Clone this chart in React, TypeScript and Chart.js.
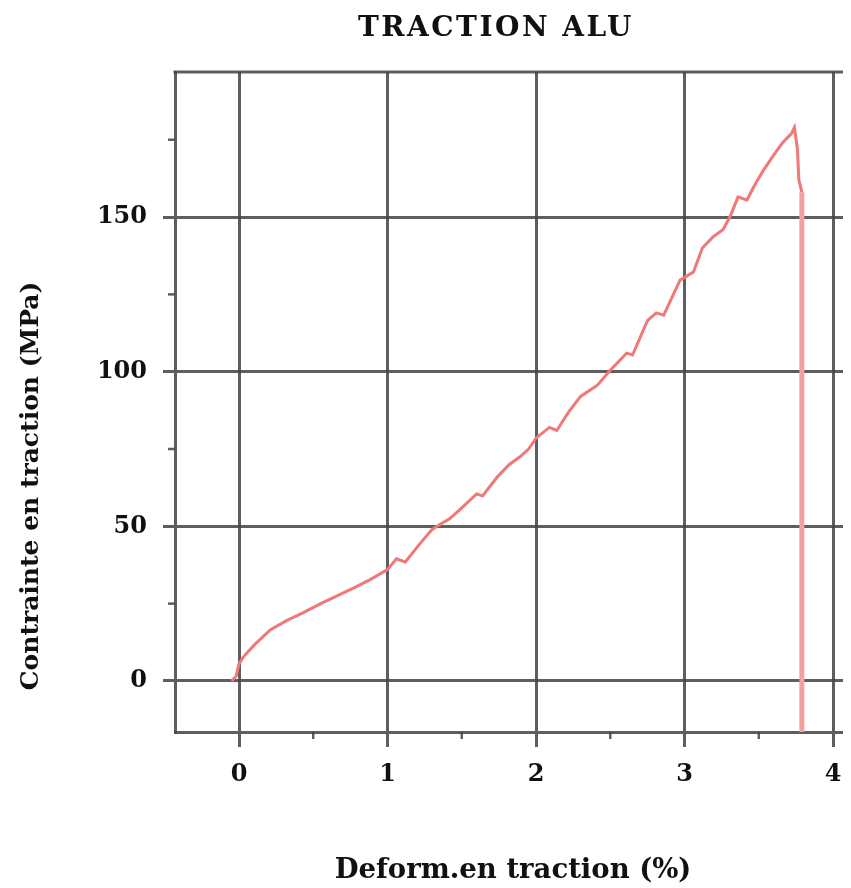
import React, { useEffect, useRef } from "react";
import { Chart, registerables } from "chart.js";

Chart.register(...registerables);

const TITLE = "TRACTION ALU";
const X_LABEL = "Deform.en traction (%)";
const Y_LABEL = "Contrainte en traction (MPa)";

const STRAIN = [
  -0.05, -0.02, 0.0, 0.03, 0.1, 0.21, 0.32, 0.43, 0.55, 0.66, 0.77, 0.88, 1.0,
  1.06, 1.12, 1.22, 1.3, 1.35, 1.42, 1.5, 1.6, 1.64, 1.74, 1.82, 1.89, 1.95,
  2.0, 2.09, 2.14, 2.22, 2.3, 2.41, 2.5, 2.61, 2.65, 2.75, 2.81, 2.86, 2.97,
  3.06, 3.12, 3.19, 3.26, 3.31, 3.36, 3.42, 3.48, 3.53, 3.6, 3.66, 3.72, 3.74,
  3.76, 3.77, 3.79, 3.79,
];
const STRESS = [
  0, 1.5, 5.5, 7.8, 11.5, 16.5, 19.5, 22, 25, 27.5, 30, 32.7, 36,
  39.5, 38.5, 44.5, 49, 50.5, 52.5, 56, 60.5, 59.8, 66, 70, 72.4, 75,
  78.5, 82, 81, 87, 92, 95.5, 100.5, 106, 105.4, 116.5, 119, 118.3, 129.6,
  132.2, 140, 143.5, 146, 150.5, 156.5, 155.5, 161, 165, 170, 174, 177, 179,
  172, 162, 158, -25,
];

const X_TICKS = [0, 1, 2, 3, 4];
const Y_TICKS = [0, 50, 100, 150];
const X_MINOR = [0.5, 1.5, 2.5, 3.5];
const Y_MINOR = [25, 75, 125, 175];

const X_MIN = -0.431;
const X_MAX = 4.121;
const Y_MIN = -16.5;
const Y_MAX = 196.9;

const FONT = "'DejaVu Serif', 'Liberation Serif', serif";
const GRID = "rgba(72,72,72,0.88)";
const LINE = "#f07878";

const framePlugin = {
  id: "frame",
  beforeDatasetsDraw(chart: any) {
    const { ctx, chartArea, scales } = chart;
    ctx.save();
    ctx.strokeStyle = GRID;
    ctx.lineWidth = 3;
    ctx.beginPath();
    ctx.moveTo(chartArea.left - 1.5, chartArea.top);
    ctx.lineTo(chartArea.right, chartArea.top);
    ctx.stroke();
    ctx.lineWidth = 2.5;
    for (const v of X_MINOR) {
      const px = scales.x.getPixelForValue(v);
      ctx.beginPath();
      ctx.moveTo(px, chartArea.bottom);
      ctx.lineTo(px, chartArea.bottom + 7);
      ctx.stroke();
    }
    for (const v of Y_MINOR) {
      const py = scales.y.getPixelForValue(v);
      ctx.beginPath();
      ctx.moveTo(chartArea.left, py);
      ctx.lineTo(chartArea.left - 7, py);
      ctx.stroke();
    }
    ctx.restore();
  },
  afterDraw(chart: any) {
    const { ctx, chartArea } = chart;
    ctx.save();
    ctx.font = `bold 28px ${FONT}`;
    ctx.fillStyle = "#111";
    ctx.textAlign = "center";
    ctx.textBaseline = "middle";
    (ctx as any).letterSpacing = "2.5px";
    ctx.fillText(TITLE, 488, 21);
    ctx.restore();
    ctx.save();
    ctx.font = `bold 25px ${FONT}`;
    ctx.fillStyle = "#111";
    ctx.textAlign = "center";
    ctx.textBaseline = "middle";
    ctx.translate(chartArea.left - 144, (chartArea.top + chartArea.bottom) / 2 + 84);
    ctx.rotate(-Math.PI / 2);
    ctx.fillText(Y_LABEL, 0, 0);
    ctx.restore();
  },
};

export default function App() {
  const ref = useRef<HTMLCanvasElement | null>(null);

  useEffect(() => {
    if (!ref.current) return;
    const points = STRAIN.map((x, i) => ({ x, y: STRESS[i] }));
    const last = points.length - 2;
    const chart = new Chart(ref.current, {
      type: "line",
      data: {
        datasets: [
          {
            data: points,
            borderColor: LINE,
            borderWidth: 3,
            pointRadius: 0,
            tension: 0,
            segment: {
              borderWidth: (c: any) => (c.p0DataIndex >= last ? 5 : 3),
              borderColor: (c: any) => (c.p0DataIndex >= last ? "#f4a0a0" : LINE),
            },
          },
        ],
      },
      options: {
        responsive: false,
        animation: false,
        layout: { padding: { left: 0, top: 64, right: 0, bottom: 0 } },
        plugins: {
          legend: { display: false },
          tooltip: { enabled: false },
          title: { display: false },
        },
        scales: {
          x: {
            type: "linear",
            min: X_MIN,
            max: X_MAX,
            afterBuildTicks: (s: any) => {
              s.ticks = X_TICKS.map((v) => ({ value: v }));
            },
            afterFit: (s: any) => {
              s.height = 152;
              s.paddingLeft = 0;
              s.paddingRight = 0;
            },
            grid: { color: GRID, lineWidth: 3, tickLength: 15, tickColor: GRID },
            border: { color: GRID, width: 3 },
            ticks: {
              color: "#111",
              padding: 13,
              maxRotation: 0,
              font: { family: FONT, size: 24, weight: "bold" },
              callback: (v: any) => String(v),
            },
            title: {
              display: true,
              text: X_LABEL,
              color: "#111",
              padding: { top: 0, bottom: -3 },
              font: { family: FONT, size: 27.5, weight: "bold" },
            },
          },
          y: {
            type: "linear",
            min: Y_MIN,
            max: Y_MAX,
            afterBuildTicks: (s: any) => {
              s.ticks = Y_TICKS.map((v) => ({ value: v }));
            },
            afterFit: (s: any) => {
              s.width = 167;
              s.paddingTop = 0;
              s.paddingBottom = 0;
            },
            grid: { color: GRID, lineWidth: 3, tickLength: 12, tickColor: GRID },
            border: { color: GRID, width: 3 },
            ticks: {
              color: "#111",
              padding: 16,
              font: { family: FONT, size: 24, weight: "bold" },
              callback: (v: any) => String(v),
            },
          },
        },
      },
      plugins: [framePlugin],
    } as any);
    return () => chart.destroy();
  }, []);

  return (
    <div style={{ width: 843, height: 876 }}>
      <canvas ref={ref} width={843} height={876} style={{ display: "block" }} />
    </div>
  );
}
